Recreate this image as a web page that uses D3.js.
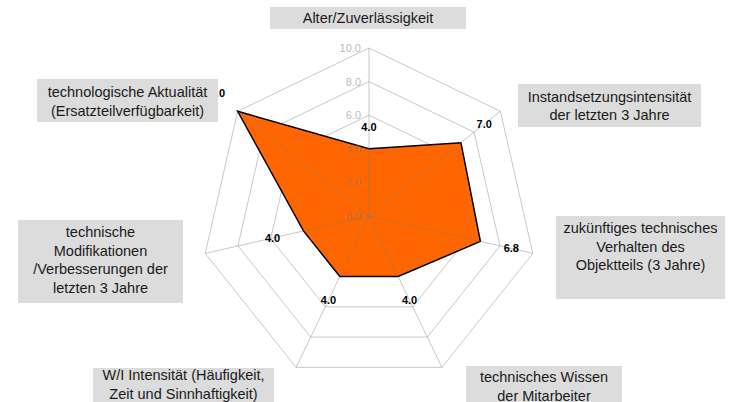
<!DOCTYPE html>
<html lang="de">
<head>
  <meta charset="utf-8">
  <title>Radar</title>
  <script src="https://cdn.jsdelivr.net/npm/d3@7/dist/d3.min.js"></script>
  <style>
    body { margin: 0px; background: white; }
    svg { display: block; }
  </style>
</head>
<body>
  <script type="text/javascript">
    // Data
    var categories = [
      ["Alter/Zuverlässigkeit"],
      ["Instandsetzungsintensität", "der letzten 3 Jahre"],
      ["zukünftiges technisches", "Verhalten des", "Objektteils (3 Jahre)"],
      ["technisches Wissen", "der Mitarbeiter"],
      ["W/I Intensität (Häufigkeit,", "Zeit und Sinnhaftigkeit)"],
      ["technische", "Modifikationen", "/Verbesserungen der", "letzten 3 Jahre"],
      ["technologische Aktualität", "(Ersatzteilverfügbarkeit)"]
    ];
    var values = [4.0, 7.0, 6.8, 4.0, 4.0, 4.0, 10.0];
    var tickValues = [0, 2, 4, 6, 8, 10];

    // Layout of the grey label boxes (x, y, w, h, first text line centre)
    var boxes = [
      {x: 270, y: 7, w: 196, h: 22, ty: 18},
      {x: 518, y: 84, w: 183, h: 43, ty: 96.5},
      {x: 556, y: 216, w: 169, h: 83, ty: 228},
      {x: 466, y: 366, w: 156, h: 40, ty: 377},
      {x: 93, y: 368, w: 181, h: 40, ty: 375},
      {x: 18, y: 220, w: 165, h: 83, ty: 232},
      {x: 37, y: 79, w: 181, h: 43, ty: 92}
    ];

    var width = 731, height = 402;
    var cx = 369, cy = 216, radius = 168;
    var n = categories.length;
    var font = "Liberation Sans, Arial, sans-serif";

    var svg = d3.select("body").append("svg")
      .attr("width", width)
      .attr("height", height);

    var r = d3.scaleLinear().domain([0, 10]).range([0, radius]);
    var angle = function(i) { return -Math.PI / 2 + i * 2 * Math.PI / n; };
    var pt = function(i, v) {
      return [cx + r(v) * Math.cos(angle(i)), cy + r(v) * Math.sin(angle(i))];
    };

    // Rings (under the fill)
    svg.selectAll(".ring")
      .data(tickValues.filter(function(d) { return d > 0; }))
      .enter().append("polygon")
      .attr("points", function(t) {
        return d3.range(n).map(function(i) { return pt(i, t).join(","); }).join(" ");
      })
      .attr("fill", "none")
      .attr("stroke", "#c8c8c8")
      .attr("stroke-width", 1);

    // Data area
    svg.append("polygon")
      .attr("points", values.map(function(v, i) { return pt(i, v).join(","); }).join(" "))
      .attr("fill", "#ff6600")
      .attr("stroke", "#000")
      .attr("stroke-width", 1.5);

    // Spokes (over the fill)
    svg.selectAll(".spoke")
      .data(d3.range(n))
      .enter().append("line")
      .attr("x1", cx).attr("y1", cy)
      .attr("x2", function(i) { return pt(i, 10)[0]; })
      .attr("y2", function(i) { return pt(i, 10)[1]; })
      .attr("stroke", "#7b7b7b")
      .attr("stroke-opacity", 0.42)
      .attr("stroke-width", 1);

    // Tick labels
    svg.selectAll(".tick")
      .data(tickValues)
      .enter().append("text")
      .attr("x", cx - 8)
      .attr("y", function(t) { return cy - r(t); })
      .attr("text-anchor", "end")
      .attr("dominant-baseline", "central")
      .attr("font-family", font)
      .attr("font-size", 11)
      .attr("fill", "#7b7b7b")
      .attr("fill-opacity", 0.55)
      .text(function(t) { return t.toFixed(1); });

    // Value labels
    var off = function(i) { return 22 + 10 * Math.abs(Math.cos(angle(i))); };
    svg.selectAll(".val")
      .data(values)
      .enter().append("text")
      .attr("x", function(v, i) { return cx + (r(v) + off(i)) * Math.cos(angle(i)); })
      .attr("y", function(v, i) { return cy + (r(v) + off(i)) * Math.sin(angle(i)); })
      .attr("text-anchor", "middle")
      .attr("dominant-baseline", "central")
      .attr("font-family", font)
      .attr("font-size", 11)
      .attr("font-weight", "bold")
      .attr("fill", "#000")
      .text(function(v) { return v.toFixed(1); });

    // Category boxes
    var cat = svg.selectAll(".cat")
      .data(categories)
      .enter().append("g");

    cat.append("rect")
      .attr("x", function(d, i) { return boxes[i].x; })
      .attr("y", function(d, i) { return boxes[i].y; })
      .attr("width", function(d, i) { return boxes[i].w; })
      .attr("height", function(d, i) { return boxes[i].h; })
      .attr("fill", "#dcdcdc");

    cat.each(function(lines, i) {
      var b = boxes[i];
      d3.select(this).selectAll("text")
        .data(lines)
        .enter().append("text")
        .attr("x", b.x + b.w / 2)
        .attr("y", function(l, j) { return b.ty + j * 18.6; })
        .attr("text-anchor", "middle")
        .attr("dominant-baseline", "central")
        .attr("font-family", font)
        .attr("font-size", 14.5)
        .attr("fill", "#1a1a1a")
        .text(function(l) { return l; });
    });
  </script>
</body>
</html>
